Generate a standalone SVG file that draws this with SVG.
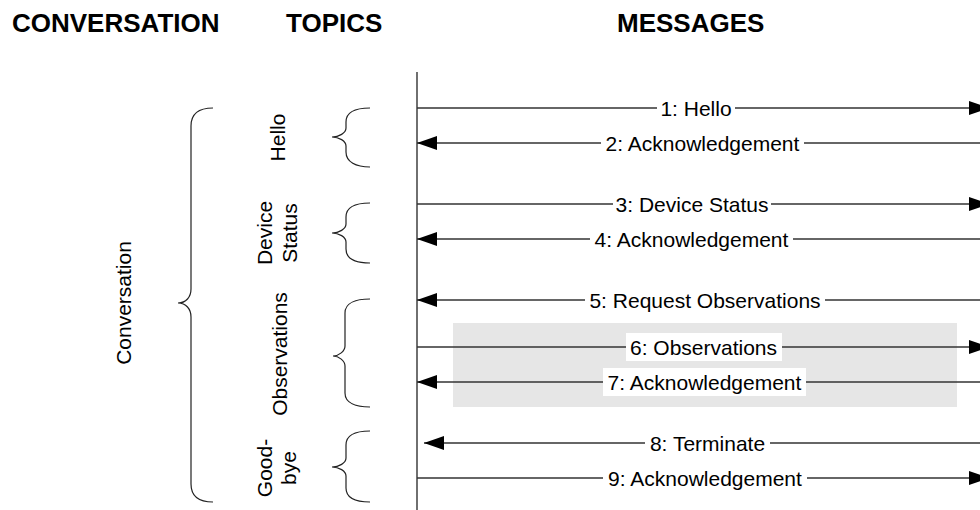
<svg xmlns="http://www.w3.org/2000/svg" width="980" height="510" viewBox="0 0 980 510">
<defs>
<style>
.title{font-family:"Liberation Sans",Arial,sans-serif;font-weight:bold;font-size:26px;fill:#000}
.lbl{font-family:"Liberation Sans",Arial,sans-serif;font-size:21px;fill:#000;text-anchor:middle}
.msg{stroke:#333;stroke-width:1.3;fill:none}
.brace{stroke:#222;stroke-width:1.2;fill:none}
.bg{fill:#fff}
</style>
<marker id="ah" viewBox="0 0 20 14" refX="20" refY="7" markerWidth="20" markerHeight="14" markerUnits="userSpaceOnUse" orient="auto">
<path d="M0,0 L20,7 L0,14 Z" fill="#000"/>
</marker>
</defs>
<rect width="980" height="510" fill="#fff"/>
<g id="headers">
<text class="title" x="12" y="32">CONVERSATION</text>
<text class="title" x="286" y="32">TOPICS</text>
<text class="title" x="617" y="32">MESSAGES</text>
</g>
<rect id="highlight" x="453" y="323" width="504" height="84" fill="#e6e6e6"/>
<g id="conversation">
<path class="brace" d="M213,108 C199,108 191,114 191,126 L191,289 C191,297 186,303 178,303 C186,303 191,309 191,317 L191,484 C191,496 199,502 213,502"/>
<text class="lbl" transform="translate(131,303) rotate(-90)">Conversation</text>
</g>
<g id="topic-hello">
<path class="brace" d="M370,108 C356,108 346,112 346,122 L346,128 C346,133 339,137 332,137 C339,137 346,141 346,146 L346,152 C346,162 356,167 370,167"/>
<text class="lbl" transform="translate(285,137.5) rotate(-90)">Hello</text>
</g>
<g id="topic-device-status">
<path class="brace" d="M370,203 C356,203 346,207 346,217 L346,224 C346,229 339,233 332,233 C339,233 346,237 346,242 L346,249 C346,259 356,263 370,263"/>
<text class="lbl" transform="translate(272,233) rotate(-90)">Device</text>
<text class="lbl" transform="translate(296.5,233) rotate(-90)">Status</text>
</g>
<g id="topic-observations">
<path class="brace" d="M370,299 C356,299 345,303 345,313 L345,346 C345,351 339,356 333,356 C339,356 345,361 345,366 L345,393 C345,403 356,407 370,407"/>
<text class="lbl" transform="translate(287,354) rotate(-90)">Observations</text>
</g>
<g id="topic-goodbye">
<path class="brace" d="M370,431 C356,431 346,435 346,445 L346,458 C346,463 339,467 332,467 C339,467 346,471 346,476 L346,488 C346,498 356,502 370,502"/>
<text class="lbl" transform="translate(271.5,468) rotate(-90)">Good-</text>
<text class="lbl" transform="translate(295.5,468) rotate(-90)">bye</text>
</g>
<g id="lifeline">
<line x1="417" y1="72" x2="417" y2="510" stroke="#333" stroke-width="1.4"/>
</g>
<g id="connectors">
<line class="msg" x1="417" y1="108" x2="989" y2="108" marker-end="url(#ah)"/>
<line class="msg" x1="980" y1="143" x2="417" y2="143" marker-end="url(#ah)"/>
<line class="msg" x1="417" y1="204" x2="989" y2="204" marker-end="url(#ah)"/>
<line class="msg" x1="980" y1="239" x2="417" y2="239" marker-end="url(#ah)"/>
<line class="msg" x1="980" y1="300" x2="417" y2="300" marker-end="url(#ah)"/>
<line class="msg" x1="417" y1="347" x2="989" y2="347" marker-end="url(#ah)"/>
<line class="msg" x1="980" y1="382" x2="417" y2="382" marker-end="url(#ah)"/>
<line class="msg" x1="980" y1="443" x2="424" y2="443" marker-end="url(#ah)"/>
<line class="msg" x1="417" y1="478" x2="989" y2="478" marker-end="url(#ah)"/>
</g>
<g id="labels">
<rect class="bg" x="657" y="95" width="78" height="26"/>
<text class="lbl" x="696" y="115.5">1: Hello</text>
<rect class="bg" x="601" y="130" width="203" height="26"/>
<text class="lbl" x="702.5" y="150.5">2: Acknowledgement</text>
<rect class="bg" x="613" y="191" width="158" height="26"/>
<text class="lbl" x="692" y="211.5">3: Device Status</text>
<rect class="bg" x="590" y="226" width="203" height="26"/>
<text class="lbl" x="691.5" y="246.5">4: Acknowledgement</text>
<rect class="bg" x="585" y="287" width="240" height="26"/>
<text class="lbl" x="705" y="307.5">5: Request Observations</text>
<rect class="bg" x="626" y="333" width="156" height="28"/>
<text class="lbl" x="703.5" y="354.5">6: Observations</text>
<rect class="bg" x="603" y="368" width="203" height="28"/>
<text class="lbl" x="704.5" y="389.5">7: Acknowledgement</text>
<rect class="bg" x="645" y="430" width="125" height="26"/>
<text class="lbl" x="707.5" y="450.5">8: Terminate</text>
<rect class="bg" x="603" y="465" width="204" height="26"/>
<text class="lbl" x="705" y="485.5">9: Acknowledgement</text>
</g>
</svg>
